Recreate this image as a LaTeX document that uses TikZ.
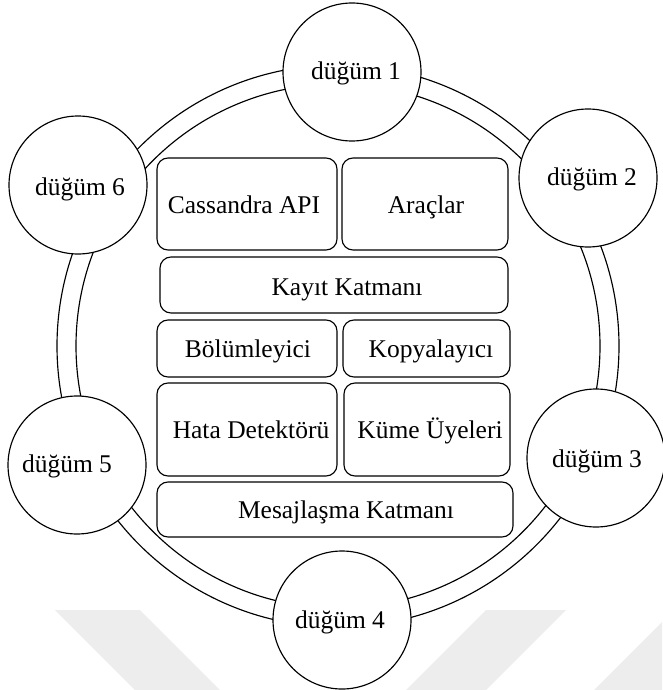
\documentclass[tikz,border=0pt]{standalone}
\usepackage{fontspec}
\setmainfont{Liberation Serif}
\begin{document}
\begin{tikzpicture}[x=1pt,y=-1pt,line width=1.15pt,
  member/.style={circle, draw, fill=white, minimum size=138pt, inner sep=0pt},
  layerbox/.style={draw, fill=white, rounded corners=11pt, inner sep=0pt},
  lbl/.style={font=\fontsize{25.5}{30}\selectfont, inner sep=0pt, anchor=base},
  faint/.style={fill=black!7, draw=none}
]
\useasboundingbox (0,0) rectangle (662,690);

% faint background chevrons
\fill[faint] (55,610) -- (140,610) -- (220,690) -- (135,690) -- cycle;
\fill[faint] (486,610) -- (566,610) -- (486,690) -- (406,690) -- cycle;
\fill[faint] (662,622) -- (662,690) -- (594,690) -- cycle;

% double ring joining the cluster members
\draw (338,346) circle[radius=281pt];
\draw (338,346) circle[radius=262pt];

% cluster members
\node[member] (n1) at (352,72)  {};
\node[member] (n2) at (588,178) {};
\node[member] (n3) at (596,458) {};
\node[member] (n4) at (342,620) {};
\node[member] (n5) at (77,465)  {};
\node[member] (n6) at (78,185)  {};

\node[lbl] (t1) at (356,80)  {düğüm 1};
\node[lbl] (t2) at (592,185) {düğüm 2};
\node[lbl] (t3) at (597,467) {düğüm 3};
\node[lbl] (t4) at (340,628) {düğüm 4};
\node[lbl] (t5) at (67,472)  {düğüm 5};
\node[lbl] (t6) at (80,195)  {düğüm 6};

% internal layers of a node
\node[layerbox, minimum width=180pt, minimum height=92pt] (api)   at (247,204)   {};
\node[layerbox, minimum width=166pt, minimum height=92pt] (tools) at (425,204)   {};
\node[layerbox, minimum width=348pt, minimum height=56pt] (store) at (334,285)   {};
\node[layerbox, minimum width=180pt, minimum height=57pt] (part)  at (247,348.5) {};
\node[layerbox, minimum width=167pt, minimum height=57pt] (repl)  at (426.5,348.5) {};
\node[layerbox, minimum width=180pt, minimum height=93pt] (fd)    at (247,429.5) {};
\node[layerbox, minimum width=166pt, minimum height=93pt] (memb)  at (427,429.5) {};
\node[layerbox, minimum width=356pt, minimum height=55pt] (msg)   at (335,509.5) {};

\node[lbl] (tapi)   at (244,213) {Cassandra API};
\node[lbl] (ttools) at (426,213) {Araçlar};
\node[lbl] (tstore) at (347,295) {Kayıt Katmanı};
\node[lbl] (tpart)  at (248,357) {Bölümleyici};
\node[lbl] (trepl)  at (431,357) {Kopyalayıcı};
\node[lbl] (tfd)    at (251,438) {Hata Detektörü};
\node[lbl] (tmemb)  at (430,438) {Küme Üyeleri};
\node[lbl] (tmsg)   at (346,518) {Mesajlaşma Katmanı};
\end{tikzpicture}
\end{document}
